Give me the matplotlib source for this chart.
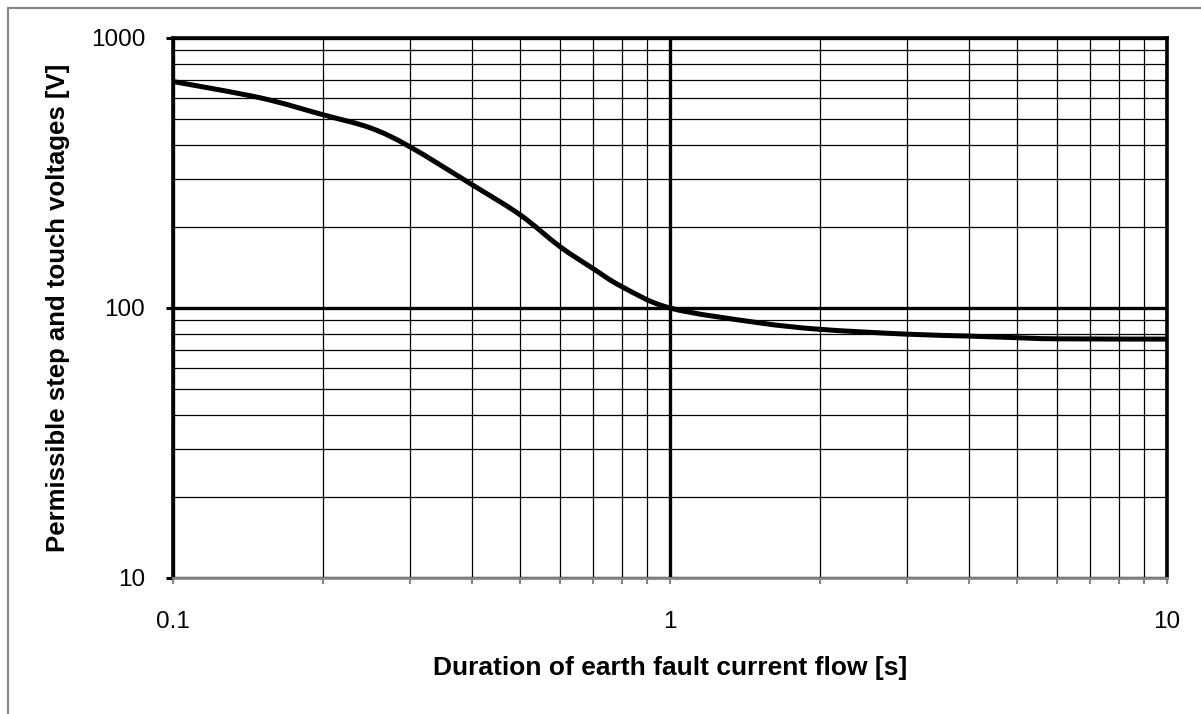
import matplotlib
matplotlib.use("Agg")
import numpy as np
import matplotlib.pyplot as plt
from matplotlib.ticker import FixedLocator, FixedFormatter, LogLocator, NullFormatter
from matplotlib.patches import Rectangle, PathPatch
from matplotlib.path import Path

plt.rcParams["font.family"] = ["Liberation Sans", "DejaVu Sans"]

# fault duration [s] vs permissible voltage [V]
duration = [0.1, 0.15, 0.2, 0.25, 0.3, 0.4, 0.5, 0.6, 0.7, 0.8, 1.0,
            1.5, 2.0, 3.0, 4.0, 5.0, 6.0, 10.0]
voltage = [690, 600, 520, 464, 395, 286, 221, 169, 140, 120, 100,
           88.3, 83.4, 80, 78.7, 77.6, 76.9, 76.7]

x_ticks = [0.1, 1, 10]
x_labels = ["0.1", "1", "10"]
y_ticks = [10, 100, 1000]
y_labels = ["10", "100", "1000"]


def smooth_path(xs, ys):
    # excel-like smoothed line: bezier segments built in log space
    lx, ly = np.log10(xs), np.log10(ys)
    n = len(lx)
    verts = [(xs[0], ys[0])]
    codes = [Path.MOVETO]
    for i in range(n - 1):
        a = max(i - 1, 0)
        b = min(i + 2, n - 1)
        c1 = (lx[i] + (lx[i + 1] - lx[a]) / 6, ly[i] + (ly[i + 1] - ly[a]) / 6)
        c2 = (lx[i + 1] - (lx[b] - lx[i]) / 6, ly[i + 1] - (ly[b] - ly[i]) / 6)
        verts += [(10 ** c1[0], 10 ** c1[1]), (10 ** c2[0], 10 ** c2[1]),
                  (xs[i + 1], ys[i + 1])]
        codes += [Path.CURVE4] * 3
    return Path(verts, codes)


fig = plt.figure(figsize=(12.01, 7.14), dpi=100)
ax = fig.add_axes([173 / 1201, 1 - 578 / 714, (1167 - 173) / 1201, (578 - 38) / 714])

ax.set_xscale("log")
ax.set_yscale("log")
ax.set_xlim(0.1, 10)
ax.set_ylim(10, 1000)

curve = PathPatch(smooth_path(duration, voltage), facecolor="none",
                  edgecolor="black", lw=3.6, capstyle="round", zorder=3)
ax.add_patch(curve)

ax.xaxis.set_major_locator(FixedLocator(x_ticks))
ax.xaxis.set_major_formatter(FixedFormatter(x_labels))
ax.yaxis.set_major_locator(FixedLocator(y_ticks))
ax.yaxis.set_major_formatter(FixedFormatter(y_labels))
ax.xaxis.set_minor_locator(LogLocator(base=10, subs=range(2, 10)))
ax.yaxis.set_minor_locator(LogLocator(base=10, subs=range(2, 10)))
ax.xaxis.set_minor_formatter(NullFormatter())
ax.yaxis.set_minor_formatter(NullFormatter())

ax.set_axisbelow(True)
ax.grid(which="major", color="black", lw=2.4)
ax.grid(which="minor", color="black", lw=0.9)

for side in ["left", "top", "right"]:
    ax.spines[side].set_color("black")
    ax.spines[side].set_linewidth(2.6)
ax.spines["bottom"].set_color("#868686")
ax.spines["bottom"].set_linewidth(2.0)

ax.tick_params(axis="x", which="both", direction="out", length=4, width=1.5,
               color="#868686", pad=20, labelsize=17.5)
ax.tick_params(axis="y", which="major", direction="out", length=5, width=2.2,
               color="black", pad=15, labelsize=17.5)
ax.tick_params(axis="y", which="minor", length=0)

ax.set_xlabel("Duration of earth fault current flow [s]", fontsize=19,
              fontweight="bold", labelpad=16)
ax.set_ylabel("Permissible step and touch voltages [V]", fontsize=18.5,
              fontweight="bold", labelpad=15)

fig.patches.append(Rectangle((8 / 1201, -0.1), 1.2, 1 - 8 / 714 + 0.1,
                             transform=fig.transFigure, fill=False,
                             edgecolor="#888888", lw=1.5))

fig.savefig("out.png", dpi=100)
